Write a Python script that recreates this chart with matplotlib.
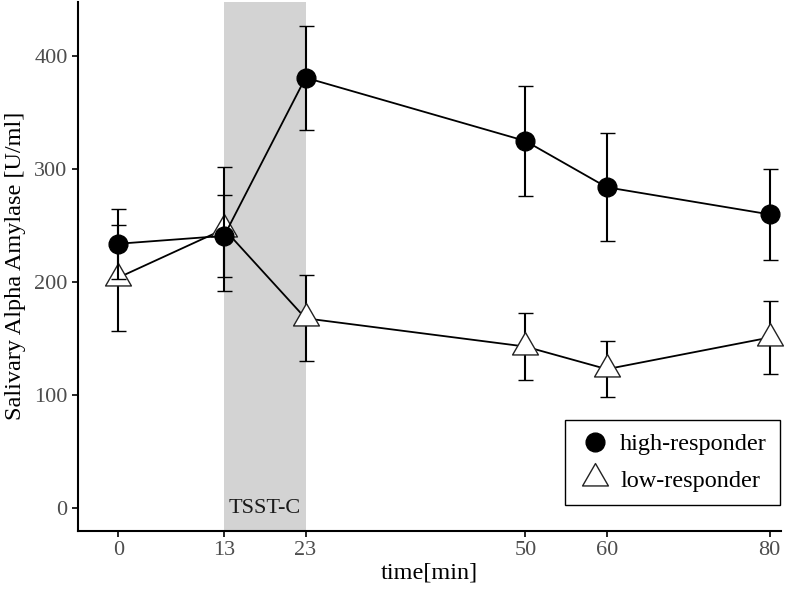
import matplotlib.pyplot as plt
from matplotlib.lines import Line2D
from matplotlib.path import Path

# data
time_min = [0, 13, 23, 50, 60, 80]
high_mean = [234, 241, 381, 325, 284, 260]
high_err = [31, 36, 46, 49, 48, 40]
low_mean = [204, 247, 168, 143, 123, 151]
low_err = [47, 55, 38, 30, 25, 32]
tsst_start, tsst_end = 13, 23

plt.rcParams['font.family'] = ['Liberation Serif', 'DejaVu Serif']

fig = plt.figure(figsize=(7.87, 5.93), dpi=100)
ax = fig.add_axes([78 / 787, 1 - 530.7 / 593, 703 / 787, 528.7 / 593])

# TSST-C shaded period
ax.axvspan(tsst_start, tsst_end, color='#d3d3d3', lw=0, zorder=0)
ax.text((tsst_start + tsst_end) / 2, 0, 'TSST-C', ha='center', va='center',
        fontsize=16, color='#1a1a1a', zorder=1)

# closed equilateral triangle marker (ggplot shape 24 look)
tri = Path([(-1, -0.577), (1, -0.577), (0, 1.155), (-1, -0.577)],
           [Path.MOVETO, Path.LINETO, Path.LINETO, Path.CLOSEPOLY])

# low-responder (triangles) drawn first, circles on top
for mean, err, mk, ms, fc in [(low_mean, low_err, tri, 21.5, 'white'),
                              (high_mean, high_err, 'o', 13.5, 'black')]:
    lines = ax.errorbar(time_min, mean, yerr=err, color='black', lw=1.3,
                        elinewidth=1.5, capsize=5.4, capthick=1.5, marker=mk,
                        markersize=ms, mfc=fc, mec='#222222' if fc == 'white' else 'black',
                        mew=1.0, zorder=3 if fc == 'white' else 4)
    for art in lines.get_children():
        art.set_clip_on(False)

ax.set_xlim(-4.95, 81.4)
ax.set_ylim(-20, 448)
ax.set_xticks(time_min)
ax.set_yticks([0, 100, 200, 300, 400])
ax.tick_params(labelsize=16, labelcolor='#4d4d4d', length=4, width=1.2, color='black')

for side in ['top', 'right']:
    ax.spines[side].set_visible(False)
for side in ['left', 'bottom']:
    ax.spines[side].set_linewidth(1.5)

ax.set_xlabel('time[min]', fontsize=17.5, labelpad=2)
ax.set_ylabel('Salivary Alpha Amylase [U/ml]', fontsize=17.5, labelpad=6)

handles = [
    Line2D([], [], ls='none', marker='o', markersize=13.5, mfc='black', mec='black'),
    Line2D([], [], ls='none', marker=tri, markersize=21.5, mfc='white', mec='#222222', mew=1.0),
]
leg = ax.legend(handles, ['high-responder', 'low-responder'], loc='lower right',
                bbox_to_anchor=(0.999, 0.048), borderaxespad=0, fontsize=17.5,
                fancybox=False, edgecolor='black', framealpha=1, handletextpad=0.4,
                borderpad=0.55, labelspacing=0.6, handlelength=1.3)
leg.get_frame().set_linewidth(1.0)
leg.set_zorder(5)

plt.savefig('out.png', dpi=100)
